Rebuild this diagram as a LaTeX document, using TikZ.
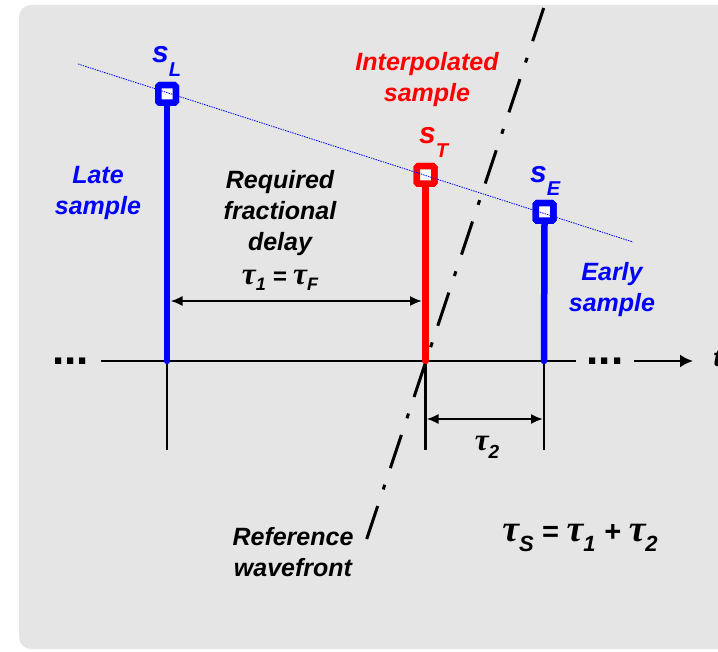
\documentclass[tikz,border=0pt]{standalone}
\usepackage{fontspec}
\setmainfont{Liberation Sans}
\newfontfamily\gkfont{Liberation Serif}
\usetikzlibrary{arrows.meta}
\definecolor{bg}{RGB}{229,229,229}
\definecolor{myblue}{RGB}{0,0,255}
\definecolor{myred}{RGB}{255,0,0}
\newcommand\tgk{{\gkfont\bfseries\itshape\scalebox{1.3}{τ}}}
\newcommand\dn[3]{\raisebox{#1}{\fontsize{#2}{#2}\selectfont #3}}
\begin{document}
\begin{tikzpicture}[x=1pt,y=-1pt,
  lbl/.style={font=\fontsize{25}{31}\selectfont\bfseries\itshape, align=center, inner sep=0pt, anchor=north},
  smp/.style={font=\fontsize{30}{30}\selectfont\bfseries\itshape, inner sep=0pt, anchor=base west},
  eq/.style={font=\fontsize{#1}{#1}\selectfont\bfseries\itshape, inner sep=0pt, anchor=base},
  stem/.style={line width=6.5pt, line cap=round},
  sq/.style={draw, line width=6.5pt, fill=white, minimum size=17.5pt, inner sep=0pt, rounded corners=1.5pt},
  thinl/.style={line width=2.2pt},
  dim/.style={line width=2pt, {Latex[length=12pt,width=10pt]}-{Latex[length=12pt,width=10pt]}},
  dots/.style={font=\fontsize{44}{44}\selectfont\bfseries, inner sep=0pt, anchor=base},
  wave/.style={line width=3pt, dash pattern=on 35pt off 17.5pt on 5pt off 17.5pt},
  guide/.style={myblue, line width=0.8pt, dash pattern=on 1.5pt off 1pt},
]
\useasboundingbox (0,0) rectangle (718,652);
\fill[bg, rounded corners=12pt] (19,5) rectangle (745,649);

% coordinates
\coordinate (Lb) at (167,361);
\coordinate (Tb) at (425.5,361);
\coordinate (Eb) at (544,361);
\coordinate (Ld) at (167,450);
\coordinate (Td) at (425.5,450);
\coordinate (Ed) at (544,450);
\coordinate (ax0) at (101,361);
\coordinate (ax1) at (576,361);
\coordinate (ar0) at (634,361);
\coordinate (ar1) at (693,361);
\coordinate (a1) at (170.5,301);
\coordinate (a2) at (422,301);
\coordinate (b1) at (426.5,419);
\coordinate (b2) at (543,419);
\coordinate (w1) at (543.7,8);
\coordinate (w2) at (366.7,539);
\coordinate (d1) at (78,64);
\coordinate (d2) at (633,242);

% axis and ticks
\draw[thinl] (ax0) -- (ax1);
\draw[thinl, -{Latex[length=13pt,width=13pt]}] (ar0) -- (ar1);
\node[dots] (dl) at (70.5,365) {...};
\node[dots] (dr) at (605,365) {...};
\node[smp, font=\fontsize{25}{25}\selectfont\bfseries\itshape] (t) at (713,367) {t};
\draw[thinl] (Lb) -- (Ld);
\draw[thinl] (Tb) -- (Td);
\draw[thinl] (Eb) -- (Ed);

% squares and stems
\node[sq, draw=myblue] (sL) at (167,94) {};
\node[sq, draw=myred] (sT) at (425.5,175) {};
\node[sq, draw=myblue] (sE) at (544.5,212) {};
\draw[stem, myblue] (sL.south) -- (Lb);
\draw[stem, myred] (sT.south) -- (Tb);
\draw[stem, myblue] (sE.south) -- (Eb);
\node[sq, draw=myblue] at (sL) {};
\node[sq, draw=myred] at (sT) {};
\node[sq, draw=myblue] at (sE) {};

% guide line
\draw[guide] (d1) -- (d2);

% wavefront
\draw[wave] (w1) -- (w2);

% dimension arrows
\draw[dim] (a1) -- (a2);
\draw[dim] (b1) -- (b2);

% sample labels
\node[smp, text=myblue] (lsL) at (152,63) {s\dn{-14pt}{20}{L}};
\node[smp, text=myred] (lsT) at (419,144) {s\dn{-14pt}{20}{T}};
\node[smp, text=myblue] (lsE) at (530,183) {s\dn{-13pt}{20}{E}};

% text labels
\node[lbl, text=myblue] (late) at (98,166) {Late\\sample};
\node[lbl] (req) at (280,170) {Required\\fractional\\delay};
\node[lbl, text=myred] (interp) at (427,52) {Interpolated\\sample};
\node[lbl, text=myblue] (early) at (612,262) {Early\\sample};
\node[lbl] (ref) at (293,527) {Reference\\wavefront};

% formulas
\node[eq=24] (tf) at (280,285) {\tgk\dn{-6pt}{18}{1} = \tgk\dn{-6pt}{18}{F}};
\node[eq=24] (t2) at (487,450) {\tgk\dn{-8pt}{19}{2}};
\node[eq=29] (ts) at (580,541) {\tgk\dn{-10pt}{22}{S} = \tgk\dn{-10pt}{22}{1} + \tgk\dn{-10pt}{22}{2}};
\end{tikzpicture}
\end{document}
